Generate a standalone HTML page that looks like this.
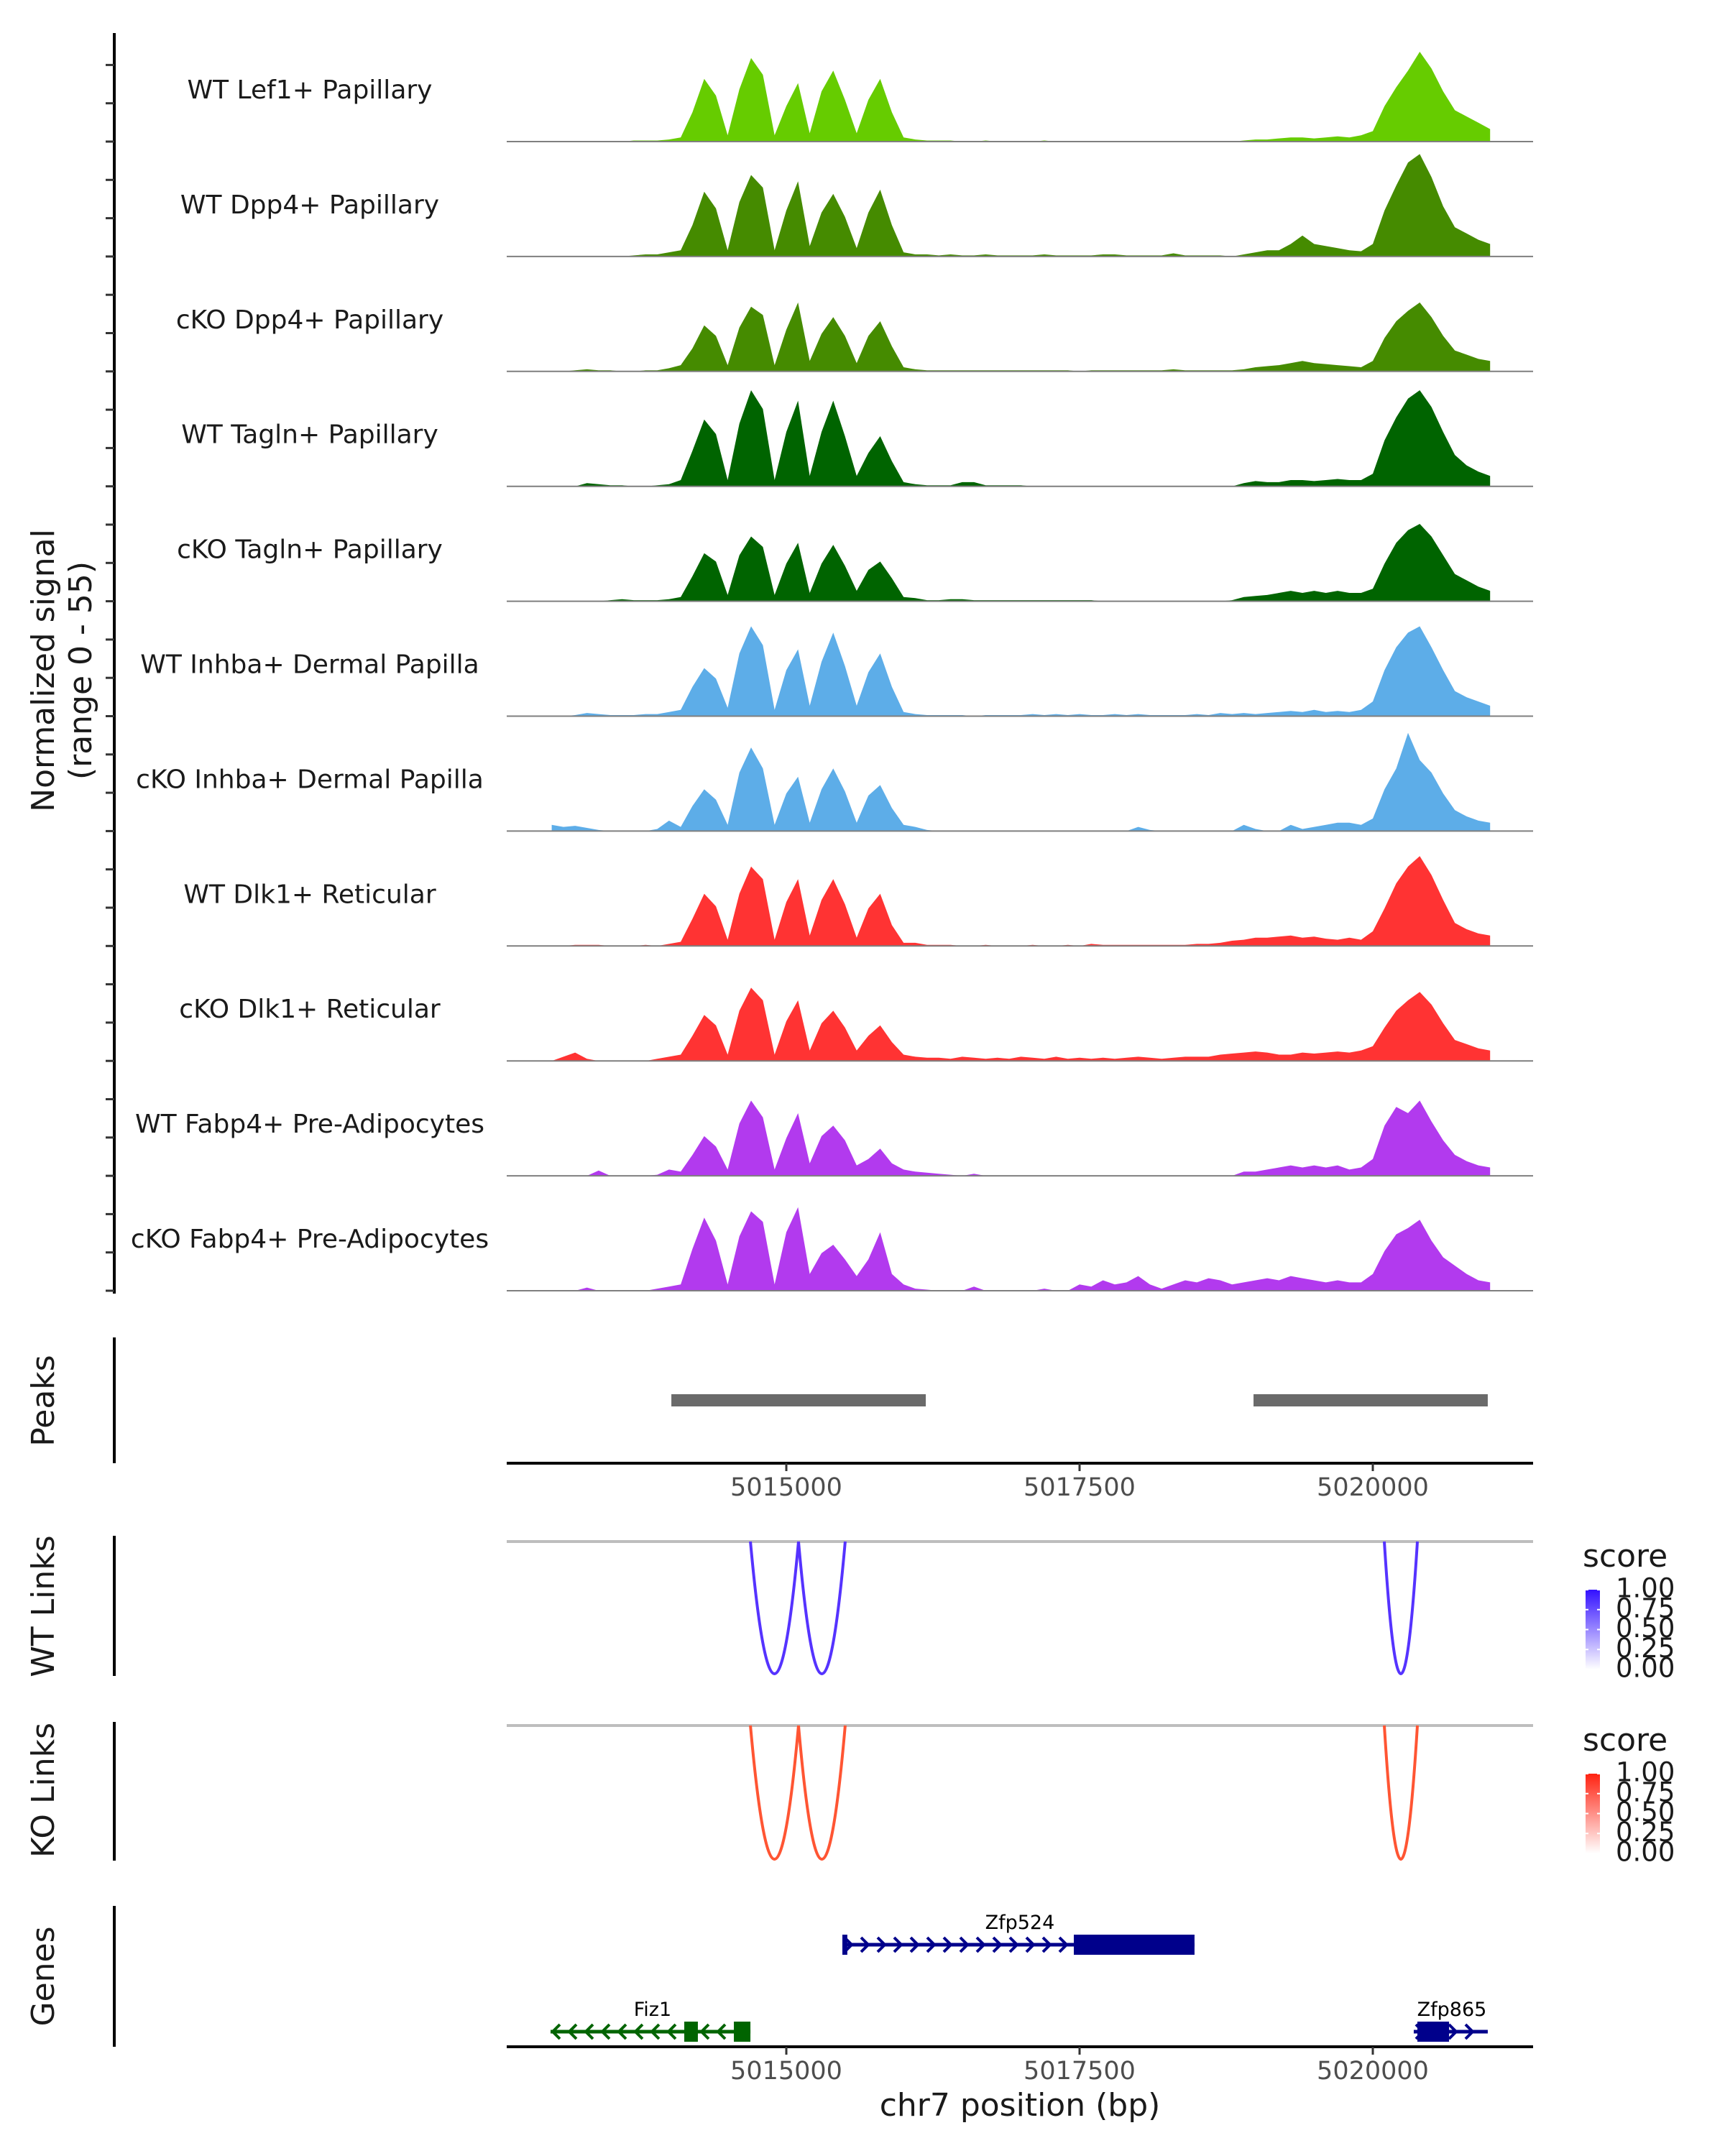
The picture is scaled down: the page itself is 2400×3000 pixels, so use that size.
<!DOCTYPE html>
<html><head><meta charset="utf-8"><style>
html,body{margin:0;padding:0;background:#fff;}
svg{display:block;font-family:"DejaVu Sans","Liberation Sans",sans-serif;}
</style></head><body>
<svg id="fig" xmlns="http://www.w3.org/2000/svg" width="2400" height="3000" viewBox="0 0 2400 3000">
<g id="tracks"></g>
<g id="peaks"></g>
<g id="links"></g>
<g id="genes"></g>
<text x="63" y="933" font-size="44" fill="#1a1a1a" text-anchor="middle" dominant-baseline="middle" transform="rotate(-90 63 933)">Normalized signal</text>
<text x="115" y="933" font-size="44" fill="#1a1a1a" text-anchor="middle" dominant-baseline="middle" transform="rotate(-90 115 933)">(range 0 - 55)</text>
<text x="63" y="1949" font-size="44" fill="#1a1a1a" text-anchor="middle" dominant-baseline="middle" transform="rotate(-90 63 1949)">Peaks</text>
<text x="63" y="2235" font-size="44" fill="#1a1a1a" text-anchor="middle" dominant-baseline="middle" transform="rotate(-90 63 2235)">WT Links</text>
<text x="63" y="2491" font-size="44" fill="#1a1a1a" text-anchor="middle" dominant-baseline="middle" transform="rotate(-90 63 2491)">KO Links</text>
<text x="63" y="2750" font-size="44" fill="#1a1a1a" text-anchor="middle" dominant-baseline="middle" transform="rotate(-90 63 2750)">Genes</text>
<text x="1419" y="2932" font-size="44" fill="#1a1a1a" text-anchor="middle" dominant-baseline="middle">chr7 position (bp)</text>
</svg>
<script>
const NS='http://www.w3.org/2000/svg';
// ---- data ----
const binStart=5013000, binSize=100;
const trackNames=["WT Lef1+ Papillary","WT Dpp4+ Papillary","cKO Dpp4+ Papillary","WT Tagln+ Papillary","cKO Tagln+ Papillary","WT Inhba+ Dermal Papilla","cKO Inhba+ Dermal Papilla","WT Dlk1+ Reticular","cKO Dlk1+ Reticular","WT Fabp4+ Pre-Adipocytes","cKO Fabp4+ Pre-Adipocytes"];
const trackColors=["#66cc00","#458b00","#458b00","#006400","#006400","#5dade8","#5dade8","#ff3333","#ff3333","#b23aee","#b23aee"];
const covLef1=[0,0,0,0,0,0,0,0.5,0.5,0.5, 1,2,14,30,22,3,25,40,32,3, 17,28,4,24,34,20,4,20,30,14, 2,1,0.5,0.5,0.5,0,0,0.5,0,0, 0,0,0.5,0,0,0,0,0,0,0, 0,0,0,0,0,0,0,0,0,0.5, 1,1,1.5,2,2,1.5,2,2.5,2,3, 5,17,26,34,43,35,24,15,12,9, 6];
const covDpp4WT=[0,0,0,0,0,0,0,0.5,1,1, 2,3,15,31,23,3,26,39,33,3, 22,36,5,21,30,19,4,21,32,15, 2,1,1,0.5,1,0.5,0.5,1,0.5,0.5, 0.5,0.5,1,0.5,0.5,0.5,0.5,1,1,0.5, 0.5,0.5,0.5,1.5,0.5,0.5,0.5,0.5,0,1, 2,3,3,6,10,6,5,4,3,2.5, 6,22,34,45,49,38,24,14,11,8, 6];
const covDpp4KO=[0,0,0.5,1,0.5,0.5,0,0,0.5,0.5, 1.5,3,11,22,17,3,21,31,27,3, 20,33,5,18,26,17,4,17,24,12, 2,1,0.5,0.5,0.5,0.5,0.5,0.5,0.5,0.5, 0.5,0.5,0.5,0.5,0.5,0,0.5,0.5,0.5,0.5, 0.5,0.5,0.5,1,0.5,0.5,0.5,0.5,0.5,1, 2,2.5,3,4,5,4,3.5,3,2.5,2, 5,16,24,29,33,26,17,10,8,6, 5];
const covTaglnWT=[0,0,0,1.5,1,0.5,0.5,0,0,0.5, 1,3,17,32,25,3,30,46,37,3, 26,41,5,26,41,24,5,16,24,12, 2,1,0.5,0.5,0.5,2,2,0.5,0.5,0.5, 0.5,0,0,0,0,0,0,0,0,0, 0,0,0,0,0,0,0,0,0,1.5, 2.5,2,2,3,3,2.5,3,3.5,3,3, 6,22,33,42,46,38,26,15,10,7, 5];
const covTaglnKO=[0,0,0,0,0,0.5,1,0.5,0.5,0.5, 1,2,12,23,19,3,22,31,26,3, 18,28,4,18,27,17,5,15,19,11, 2,1.5,0.5,0.5,1,1,0.5,0.5,0.5,0.5, 0.5,0.5,0.5,0.5,0.5,0.5,0.5,0,0,0, 0,0,0,0,0,0,0,0,0.5,2, 2.5,3,4,5,4,5,4,5,4,4, 6,18,28,34,37,31,22,13,10,7, 5];
const covInhbaWT=[0,0,0.5,1.5,1,0.5,0.5,0.5,1,1, 2,3,14,23,18,4,30,43,34,3, 22,32,5,26,40,24,5,21,30,14, 2,1,0.5,0.5,0.5,0.5,0,0.5,0.5,0.5, 0.5,1,0.5,1,0.5,1,0.5,0.5,1,0.5, 1,0.5,0.5,0.5,0.5,1,0.5,1.5,1,1.5, 1,1.5,2,2.5,2,3,2,2.5,2,3, 7,22,33,40,43,33,22,12,9,7, 5];
const covInhbaKO=[3,2,2.5,1.5,0.5,0,0,0,0,1, 5,2,12,20,15,3,28,40,30,3, 18,26,4,20,30,19,4,17,22,11, 3,2,0.5,0,0,0,0,0,0,0, 0,0,0,0,0,0,0,0,0,0, 2,0.5,0,0,0,0,0,0,0,3, 1,0,0,3,1,2,3,4,4,3, 6,20,30,47,34,28,18,10,7,5, 4];
const covDlk1WT=[0,0,0.5,0.5,0.5,0,0,0,0.5,0, 1,2,13,25,19,3,25,38,32,3, 21,32,5,22,32,20,4,18,25,10, 1.5,1.5,0.5,0.5,0.5,0,0,0.5,0,0, 0,0.5,0,0,0.5,0,1,0.5,0.5,0.5, 0.5,0.5,0.5,0.5,0.5,1,1,1.5,2.5,3, 4,4,4.5,5,4,4.5,3.5,3,4,3, 7,18,30,38,43,34,22,11,8,6, 5];
const covDlk1KO=[0,2,4,1,0,0,0,0,0,1, 2,3,12,22,17,3,24,35,29,3, 19,29,5,18,24,16,5,12,17,9, 3,2,1.5,1.5,1,2,1.5,1,1.5,1, 2,1.5,1,2,1,1.5,1,1.5,1,1.5, 2,1.5,1,1.5,2,2,2,3,3.5,4, 4.5,4,3,3,4,3.5,4,4.5,4,5, 7,16,24,29,33,27,18,10,8,6, 5];
const covFabp4WT=[0,0,0,0,2.5,0,0,0,0,0.5, 3,2,10,19,14,3,25,36,28,3, 18,30,6,19,24,17,5,8,13,6, 3,2,1.5,1,0.5,0,1,0,0,0, 0,0,0,0,0,0,0,0,0,0, 0,0,0,0,0,0,0,0,0,2, 2,3,4,5,4,5,4,5,3,4, 8,24,33,30,36,26,17,10,7,5, 4];
const covFabp4KO=[0,0,0,1.5,0,0,0,0,0,1, 2,3,20,35,24,3,26,38,33,3, 28,40,8,18,22,15,7,15,28,8, 3,1,0.5,0,0,0,2,0,0,0, 0,0,1,0,0,3,2,5,3,4, 7,3,1,3,5,4,6,5,3,4, 5,6,5,7,6,5,4,5,4,4, 8,19,27,30,34,24,16,12,8,5, 4];
const coverage=[covLef1,covDpp4WT,covDpp4KO,covTaglnWT,covTaglnKO,covInhbaWT,covInhbaKO,covDlk1WT,covDlk1KO,covFabp4WT,covFabp4KO];
const yMax=55;
const peakStarts=[5014020,5018983];
const peakEnds=[5016189,5020980];
const xTicks=[5015000,5017500,5020000];
const xTickLabels=["5015000","5017500","5020000"];
const linkStarts=[5014694,5015104,5020098];
const linkEnds=[5015104,5015502,5020380];
const legendTicks=[1.00,0.75,0.50,0.25,0.00];
const legendTickLabels=["1.00","0.75","0.50","0.25","0.00"];
const geneNames=["Zfp524","Fiz1","Zfp865"];
const geneStarts=[5015478,5012990,5020349];
const geneEnds=[5018480,5014694,5020980];
const geneStrands=[1,-1,1];
const geneRow=[0,1,1];
const exonStarts=[[5015478,5017451],[5014130,5014553],[5020380]];
const exonEnds=[[5015520,5018480],[5014246,5014694],[5020650]];
const geneLabelPos=[5016991,5013860,5020674];

// ---- scales ----
const X0=705,X1=2133;
const pxPerBp=0.1632, xRef=5015000, xRefPx=1094;
function xs(bp){return xRefPx+(bp-xRef)*pxPerBp;}
const firstBase=197, trackStep=159.9, trackH=159.9;
function ys(v,base){return base-v/yMax*trackH;}

function el(tag,attrs,parent){const e=document.createElementNS(NS,tag);for(const k in attrs)e.setAttribute(k,attrs[k]);parent.appendChild(e);return e;}

// ---- coverage tracks ----
const gT=document.getElementById('tracks');
el('line',{x1:159,y1:46,x2:159,y2:1800,stroke:'#000','stroke-width':4},gT);
coverage.forEach((vals,t)=>{
  const base=firstBase+t*trackStep;
  const g=el('g',{},gT);
  
  
  for(let k=0;k<3;k++){
    const tk=el('line',{x1:147,x2:159,y1:base-k*trackH/3,y2:base-k*trackH/3,stroke:'#333','stroke-width':3},g);
    
    
  }
  let pts=[[xs(binStart),base]];
  vals.forEach((v,i)=>{pts.push([xs(binStart+i*binSize),ys(v,base)]);});
  pts.push([xs(binStart+(vals.length-1)*binSize),base]);
  const a=el('polygon',{points:pts.map(p=>p[0].toFixed(1)+','+p[1].toFixed(1)).join(' '),fill:trackColors[t]},g);
  
  
  const bl=el('line',{x1:X0,x2:X1,y1:base,y2:base,stroke:'#7f7f7f','stroke-width':2},g);
  
  
  const lb=el('text',{x:431,y:base-70,'font-size':36,fill:'#1a1a1a','text-anchor':'middle','dominant-baseline':'middle'},g);
  lb.textContent=trackNames[t];
  
  
});

// ---- peaks ----
const gP=document.getElementById('peaks');
el('line',{x1:159,y1:1861,x2:159,y2:2036,stroke:'#000','stroke-width':4},gP);
peakStarts.forEach((s,i)=>{
  const r=el('rect',{x:xs(s),y:1940,width:xs(peakEnds[i])-xs(s),height:17,fill:'#6a6a6a'},gP);
  
  
});
function xAxis(y,parent){
  const ax=el('line',{x1:X0,x2:X1,y1:y,y2:y,stroke:'#000','stroke-width':4},parent);
  
  
  xTicks.forEach((t,i)=>{
    const tl=el('line',{x1:xs(t),x2:xs(t),y1:y,y2:y+11,stroke:'#333','stroke-width':3},parent);
    
    
    const tx=el('text',{x:xs(t),y:y+35,'font-size':35,fill:'#4d4d4d','text-anchor':'middle','dominant-baseline':'middle'},parent);
    tx.textContent=xTickLabels[i];
    
    
  });
}
xAxis(2036,gP);

// ---- links ----
const gL=document.getElementById('links');
const defs=el('defs',{},gL);
function linkPanel(top,bottom,axTop,axBot,color,gradTop,gradId,legY,name){
  const g=el('g',{},gL);
  
  
  el('line',{x1:159,y1:axTop,x2:159,y2:axBot,stroke:'#000','stroke-width':4},g);
  const gl=el('line',{x1:X0,x2:X1,y1:top,y2:top,stroke:'#bebebe','stroke-width':4},g);
  
  
  linkStarts.forEach((s,i)=>{
    const xa=xs(s),xb=xs(linkEnds[i]),cx=(xa+xb)/2,depth=bottom-top;
    const p=el('path',{d:`M${xa},${top} Q${cx},${top+2*depth} ${xb},${top}`,fill:'none',stroke:color,'stroke-width':4},g);
    
    
  });
  const lg=el('linearGradient',{id:gradId,x1:0,y1:1,x2:0,y2:0},defs);
  el('stop',{offset:'0','stop-color':'#ffffff'},lg);
  el('stop',{offset:'1','stop-color':gradTop},lg);
  const t=el('text',{x:2202,y:legY,'font-size':44,fill:'#1a1a1a','dominant-baseline':'middle'},g);
  t.textContent='score';
  
  
  const bt=legY+44, bb=bt+111;
  const bar=el('rect',{x:2206,y:bt,width:20,height:bb-bt,fill:`url(#${gradId})`},g);
  
  
  legendTicks.forEach((v,i)=>{
    const yy=bb-v*(bb-bt);
    el('line',{x1:2206,x2:2210,y1:yy,y2:yy,stroke:'#fff','stroke-width':2},g);
    el('line',{x1:2222,x2:2226,y1:yy,y2:yy,stroke:'#fff','stroke-width':2},g);
    const lt=el('text',{x:2248,y:yy,'font-size':37,fill:'#1a1a1a','dominant-baseline':'middle'},g);
    lt.textContent=legendTickLabels[i];
    
    
  });
}
linkPanel(2145,2329,2137,2332,'#5533ff','#3311ff','gradWT',2168,'wt-links-panel');
linkPanel(2401,2587,2396,2589,'#ff5533','#ff2211','gradKO',2424,'ko-links-panel');

// ---- genes ----
const gG=document.getElementById('genes');
el('line',{x1:159,y1:2652,x2:159,y2:2848,stroke:'#000','stroke-width':4},gG);
const rowY=[2706,2827];
geneNames.forEach((n,i)=>{
  const y=rowY[geneRow[i]];
  const col=geneStrands[i]>0?'#00008b':'#006400';
  const g=el('g',{},gG);
  
  
  const a=xs(geneStarts[i]),b=xs(geneEnds[i]);
  el('line',{x1:a,x2:b,y1:y,y2:y,stroke:col,'stroke-width':5},g);
  for(let x=a+8;x<b-4;x+=23){
    const d=geneStrands[i]>0?`M${x-5},${y-10} L${x+5},${y} L${x-5},${y+10}`:`M${x+5},${y-10} L${x-5},${y} L${x+5},${y+10}`;
    el('path',{d:d,fill:'none',stroke:col,'stroke-width':4},g);
  }
  exonStarts[i].forEach((s,j)=>{
    const ex=el('rect',{x:xs(s),y:y-14,width:Math.max(6,xs(exonEnds[i][j])-xs(s)),height:28,fill:col},g);
    
    
  });
  const lb=el('text',{x:xs(geneLabelPos[i]),y:y-22,'font-size':27,fill:'#000','text-anchor':'middle'},g);
  lb.textContent=n;
  
  
});
xAxis(2848,gG);
</script>
</body></html>
